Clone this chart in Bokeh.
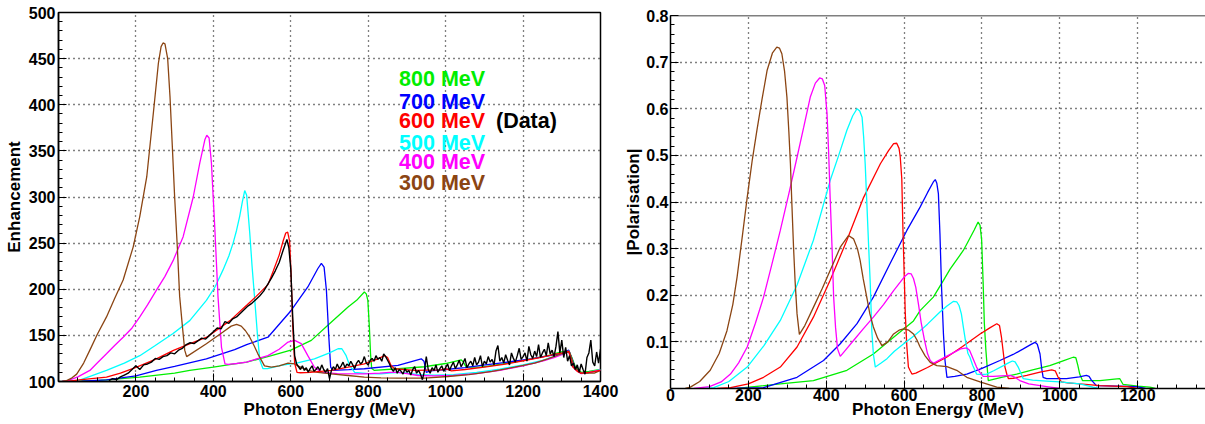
from bokeh.plotting import figure
from bokeh.layouts import row, column
from bokeh.models import FixedTicker, Span, PrintfTickFormatter
from bokeh.embed import file_html
from bokeh.resources import INLINE
from bokeh.core.properties import value

# ---------------- data: left panel (Enhancement) ----------------
brown300_enh = [(10,100),(21,101),(35,104),(47,108),(65,120),(81,134),(100,151),(124,170),(145,190),(167,210),(193,246),(210,279),(228,322),(245,391),(258,445),(265,463),(270,467),(275,466),(282,450),(288,409),(294,355),(300,300),(307,245),(313,192),(320,160),(326,134),(331,127),(382,141),(425,153.6),(446,160),(460,162),(472,160),(483,155),(494,148),(505,139),(515,130),(532,117),(550,115.5),(570,117),(593,120),(610,119),(618,117),(644,112),(670,110),(704,108.3),(748,106.5),(790,104.7),(833,104),(877,103.6),(945,103.6),(1006,105.4),(1060,107.5),(1120,111),(1178,115.5),(1230,120),(1264,124.6),(1298,130),(1320,132),(1333,115.5),(1350,109),(1384,109),(1400,112)]
magenta400_enh = [(10,100),(21,100.5),(50,105),(81,112),(100,120),(124,130),(145,139),(167,148),(190,158),(210,170),(230,183),(253,199),(275,214),(296,231),(322,257),(348,300),(365,337),(378,362),(383,367),(389,364),(395,337),(404,264),(412,192),(421,137),(430,119),(438,118.5),(460,119.5),(486,121),(500,123),(541,128),(570,135),(593,142.7),(610,144.6),(627,141),(644,128),(661,115.5),(679,110),(720,108.5),(790,108.3),(830,109),(855,110),(877,110),(900,108.5),(928,106.5),(970,106),(1020,106.5),(1080,108.5),(1140,112),(1200,117),(1250,122),(1280,126),(1300,129),(1318,132),(1326,123),(1335,113),(1350,108.5),(1370,109.5),(1400,112.5)]
cyan500_enh = [(10,100),(47,100.5),(85,106),(124,112),(170,120),(210,128),(250,139),(296,152),(339,166),(382,188),(405,203),(425,221),(440,236),(451,250),(460,264),(468,279),(475,295),(481,307),(486,302),(494,261),(500,225),(507,188),(514,150),(520,123),(528,114),(540,114),(575,117.4),(620,120.5),(661,124.6),(700,131),(722,135.5),(732,135.5),(743,128),(752,117.4),(765,110),(800,108.5),(833,108.3),(860,109.5),(880,110),(900,109),(930,107.5),(970,107),(1020,107.5),(1080,110),(1140,113.5),(1200,118),(1250,123),(1280,127),(1300,130),(1318,133),(1326,124),(1335,113),(1350,109),(1370,110),(1400,113)]
red600_enh = [(10,100),(21,100),(60,102),(124,104.7),(160,109),(202,115.5),(250,124),(297,133.7),(340,141),(383,148),(443,166),(486,182.6),(510,192),(541,205),(555,220),(570,237),(580,252),(587,261),(592,262),(597,252),(601,215),(605,160),(610,120),(616,110),(625,109.5),(650,110),(705,112),(748,115.5),(790,119),(825,124.6),(842,128),(850,126),(859,117.4),(868,113.8),(920,112),(988,112.6),(1000,114),(1015,111.5),(1050,113),(1100,115.5),(1150,118.5),(1200,122.5),(1250,126.5),(1280,129.5),(1302,131),(1318,133),(1328,116),(1340,111),(1350,109),(1370,110),(1400,112)]
blue700_enh = [(10,100),(60,100.5),(124,101.8),(200,106),(253,112),(300,116.5),(382,124.6),(455,134.5),(486,140),(541,148),(601,177),(644,202.5),(670,222.5),(679,228),(686,224),(692,199),(695,175),(698,150),(703,115.5),(709,112),(750,112.8),(790,113.8),(877,117.4),(937,124.6),(944,122),(950,110),(960,111.5),(1000,113),(1050,115),(1092,117.4),(1150,120.5),(1221,124.6),(1260,127.5),(1298,130),(1318,134),(1326,125),(1335,114),(1350,109),(1370,110),(1400,112)]
green800_enh = [(10,100),(100,101),(210,104.7),(300,109),(339,112),(400,115.5),(446,118.5),(486,121),(550,128),(600,134),(653,144.6),(700,162.7),(748,180.8),(770,188),(790,197),(795,195),(799,188),(803,159),(806,130),(809,114),(816,112),(877,113.8),(945,116),(1000,119.5),(1040,123.5),(1046,121),(1053,115.5),(1092,115.5),(1178,121),(1264,128),(1298,132),(1318,133),(1326,126),(1335,116),(1350,110),(1370,111),(1400,113)]

# measured enhancement (black): 10 MeV bins up to 590, 5 MeV bins from 595
data_E_low = list(range(130, 591, 10))
data_enh_low = [101, 103, 102, 105, 107, 109, 113, 117,
                113, 118, 119, 121, 125, 124, 127, 128, 131, 130,
                134, 136, 140, 142, 141, 144, 147, 146, 150, 154,
                158, 157, 165, 163, 168, 170, 174, 178, 182, 185,
                189, 193, 198, 205, 212, 220, 229, 242, 254]
data_E_high = list(range(595, 1401, 5))
data_enh_high = [245, 222, 170, 128, 119, 116, 113, 117, 112, 115,
                 110, 114, 117, 111, 113, 116, 112, 118, 113, 110,
                 114, 103, 112, 116, 113, 119, 114, 117, 121, 115,
                 119, 117, 122, 118, 114, 120, 123, 119, 121, 127,
                 120, 118, 123, 125, 122, 128, 124, 126, 122, 130,
                 127, 123, 119, 114, 111, 115, 109, 113, 111, 108,
                 114, 110, 112, 107, 113, 116, 109, 112, 108, 102,
                 111, 127, 113, 109, 115, 112, 118, 110, 114, 117,
                 111, 115, 119, 112, 117, 121, 114, 118, 123, 116,
                 120, 125, 115, 119, 122, 117, 126, 118, 121, 128,
                 116, 122, 119, 127, 121, 124, 118, 133, 139, 122,
                 126, 120, 129, 123, 118, 131, 125, 121, 128, 136,
                 124, 127, 131, 122, 138, 129, 125, 133, 127, 140,
                 126, 131, 135, 128, 142, 130, 134, 127, 138, 154,
                 131, 145, 126, 137, 122, 128, 117, 120, 113, 118,
                 110, 119, 113, 108, 126, 131, 145, 121, 117, 132,
                 120, 135]

# ---------------- data: right panel (|Polarisation|) ----------------
brown300_pol = [(38,0),(51,0.003),(75,0.015),(102,0.039),(125,0.075),(145,0.124),(160,0.18),(171,0.239),(185,0.33),(197,0.41),(210,0.49),(222,0.554),(235,0.62),(248,0.682),(262,0.72),(273,0.732),(280,0.73),(286,0.718),(293,0.68),(299,0.625),(304,0.55),(308,0.482),(312,0.39),(316,0.303),(320,0.23),(325,0.16),(331,0.116),(345,0.135),(367,0.174),(390,0.215),(410,0.253),(436,0.303),(457,0.328),(470,0.321),(480,0.3),(487,0.275),(495,0.235),(504,0.196),(512,0.16),(521,0.132),(532,0.108),(543,0.092),(558,0.1),(573,0.117),(587,0.125),(599,0.128),(612,0.125),(624,0.117),(633,0.104),(641,0.089),(654,0.07),(667,0.056),(684,0.049),(710,0.047),(735,0.039),(761,0.024),(795,0.014),(838,0.003),(870,0.0)]
magenta400_pol = [(60,0),(100,0.004),(130,0.014),(154,0.031),(175,0.055),(197,0.089),(218,0.14),(239,0.196),(260,0.265),(282,0.339),(304,0.418),(325,0.496),(342,0.56),(359,0.625),(372,0.655),(383,0.666),(390,0.664),(396,0.65),(402,0.589),(406,0.51),(410,0.41),(415,0.3),(419,0.196),(424,0.13),(429,0.085),(436,0.069),(450,0.083),(470,0.103),(495,0.128),(521,0.153),(547,0.18),(573,0.21),(590,0.228),(600,0.239),(611,0.247),(618,0.246),(624,0.236),(630,0.217),(637,0.18),(644,0.14),(652,0.105),(660,0.075),(667,0.06),(675,0.054),(700,0.065),(727,0.077),(745,0.085),(761,0.087),(768,0.082),(775,0.068),(786,0.046),(795,0.034),(803,0.026),(829,0.026),(850,0.027),(872,0.028),(885,0.024),(897,0.017),(920,0.01),(949,0.006),(975,0.003),(1000,0.0)]
cyan500_pol = [(75,0),(111,0.002),(150,0.015),(197,0.046),(240,0.092),(282,0.146),(325,0.222),(367,0.318),(410,0.446),(432,0.5),(453,0.554),(468,0.585),(479,0.6),(486,0.595),(492,0.582),(496,0.54),(500,0.482),(504,0.403),(509,0.303),(513,0.225),(517,0.124),(521,0.074),(526,0.046),(540,0.054),(556,0.064),(575,0.08),(599,0.096),(624,0.112),(641,0.124),(660,0.138),(692,0.164),(710,0.177),(727,0.187),(735,0.186),(741,0.178),(747,0.16),(752,0.132),(758,0.1),(764,0.075),(769,0.067),(776,0.05),(786,0.031),(800,0.03),(812,0.031),(830,0.038),(855,0.049),(868,0.055),(878,0.059),(885,0.057),(893,0.046),(900,0.032),(906,0.021),(930,0.018),(966,0.016),(1000,0.014),(1051,0.01),(1085,0.003),(1100,0.0)]
red600_pol = [(120,0),(154,0.002),(200,0.01),(239,0.024),(282,0.046),(325,0.089),(367,0.153),(410,0.232),(453,0.318),(496,0.41),(539,0.482),(560,0.51),(573,0.525),(581,0.526),(587,0.515),(590,0.497),(594,0.45),(597,0.339),(600,0.25),(603,0.16),(607,0.09),(611,0.046),(615,0.039),(620,0.031),(630,0.033),(660,0.045),(709,0.067),(750,0.09),(795,0.117),(820,0.13),(838,0.139),(845,0.135),(850,0.11),(855,0.075),(859,0.046),(864,0.03),(868,0.021),(880,0.022),(915,0.028),(949,0.035),(979,0.04),(988,0.038),(995,0.025),(1004,0.014),(1020,0.012),(1051,0.01),(1103,0.006),(1172,0.004),(1200,0.0)]
blue700_pol = [(150,0),(239,0.002),(325,0.024),(393,0.06),(436,0.096),(479,0.139),(521,0.196),(564,0.268),(607,0.339),(641,0.389),(660,0.42),(675,0.443),(680,0.448),(684,0.44),(688,0.418),(692,0.332),(696,0.22),(701,0.117),(705,0.06),(710,0.024),(730,0.026),(761,0.031),(800,0.043),(846,0.06),(880,0.073),(906,0.085),(925,0.094),(936,0.099),(942,0.095),(949,0.074),(953,0.045),(957,0.024),(966,0.021),(1017,0.021),(1050,0.025),(1068,0.028),(1075,0.026),(1081,0.018),(1094,0.006),(1150,0.005),(1197,0.004),(1220,0.0)]
green800_pol = [(171,0),(282,0.01),(367,0.017),(453,0.039),(521,0.074),(573,0.11),(624,0.145),(641,0.167),(675,0.196),(701,0.232),(718,0.256),(752,0.296),(761,0.31),(780,0.34),(790,0.357),(795,0.35),(799,0.32),(803,0.225),(806,0.14),(810,0.082),(816,0.017),(850,0.024),(889,0.031),(930,0.04),(974,0.049),(1010,0.06),(1034,0.067),(1041,0.066),(1046,0.05),(1051,0.031),(1058,0.017),(1103,0.017),(1140,0.02),(1154,0.021),(1158,0.015),(1162,0.009),(1200,0.005),(1231,0.003),(1245,0.0)]

# ---------------- labels / colours ----------------
beam_labels = ["800 MeV", "700 MeV", "600 MeV", "500 MeV", "400 MeV", "300 MeV"]
beam_colors = ["#00ee00", "#0000ff", "#ff0000", "#00ffff", "#ff00ff", "#8b4513"]
data_label = "(Data)"
left_xticks = [200, 400, 600, 800, 1000, 1200, 1400]
left_yticks = [100, 150, 200, 250, 300, 350, 400, 450, 500]
right_xticks = [0, 200, 400, 600, 800, 1000, 1200]
right_yticks = [0.1, 0.2, 0.3, 0.4, 0.5, 0.6, 0.7, 0.8]

FONT = "Liberation Sans"


def unzip(pts):
    return [p[0] for p in pts], [p[1] for p in pts]


def style(p, xt, xm, yt, ym, xlabel, ylabel, x_ls, x_as, y_ls, y_as):
    p.xaxis.ticker = FixedTicker(ticks=xt, minor_ticks=xm)
    p.yaxis.ticker = FixedTicker(ticks=yt, minor_ticks=ym)
    p.xaxis.axis_label = xlabel
    p.yaxis.axis_label = ylabel
    for ax in (p.xaxis[0], p.yaxis[0]):
        ax.axis_line_color = "black"
        ax.axis_line_width = 1.5
        ax.major_tick_in = 8
        ax.major_tick_out = 0
        ax.minor_tick_in = 4
        ax.minor_tick_out = 0
        ax.major_tick_line_color = "black"
        ax.minor_tick_line_color = "black"
        ax.major_label_text_font = FONT
        ax.major_label_text_font_size = "16px"
        ax.major_label_text_font_style = "bold"
        ax.major_label_text_color = "black"
        ax.axis_label_text_font = FONT
        ax.axis_label_text_font_size = "17px"
        ax.axis_label_text_font_style = "bold"
        ax.axis_label_text_color = "black"
    p.xaxis[0].major_label_standoff = x_ls
    p.xaxis[0].axis_label_standoff = x_as
    p.yaxis[0].major_label_standoff = y_ls
    p.yaxis[0].axis_label_standoff = y_as
    for g in (p.xgrid[0], p.ygrid[0]):
        g.grid_line_color = "black"
        g.grid_line_dash = "1 4"
        g.grid_line_width = 1.3
    p.background_fill_color = "white"
    p.border_fill_color = "white"


# ---------------- left figure ----------------
p1 = figure(width=620, height=424, x_range=(0, 1400), y_range=(100, 500),
            min_border_left=58, min_border_right=20, min_border_top=12, min_border_bottom=43,
            output_backend="svg", toolbar_location=None)
style(p1, left_xticks, list(range(50, 1400, 50)), left_yticks, list(range(100, 501, 10)),
      "Photon Energy (MeV)", "Enhancement", 3, 0, 3, 2)
p1.outline_line_color = "black"
p1.outline_line_width = 1.5

left_curves = [green800_enh, blue700_enh, cyan500_enh, magenta400_enh, brown300_enh]
left_cols = [beam_colors[0], beam_colors[1], beam_colors[3], beam_colors[4], beam_colors[5]]
for pts, c in zip(left_curves, left_cols):
    x, y = unzip(pts)
    p1.line(x, y, line_color=c, line_width=1.3)
xr, yr = unzip(red600_enh)
p1.line(xr, yr, line_color=beam_colors[2], line_width=1.3)
p1.line(data_E_low + data_E_high, data_enh_low + data_enh_high, line_color="black", line_width=1.4)

leg_y = [428, 403.3, 382.8, 358.5, 338.4, 314.7]
p1.text(x=[1102] * len(beam_labels), y=leg_y, text=beam_labels, text_color=beam_colors,
        text_font=value(FONT), text_font_style="bold", text_font_size="21.5px",
        text_align="right", text_baseline="middle")
p1.text(x=[1130], y=[382.8], text=[data_label], text_color="black",
        text_font=value(FONT), text_font_style="bold", text_font_size="21.5px",
        text_align="left", text_baseline="middle")

# ---------------- right figure ----------------
p2 = figure(width=585, height=424, x_range=(0, 1374), y_range=(0, 0.8),
            min_border_left=50, min_border_right=0, min_border_top=15, min_border_bottom=36,
            output_backend="svg", toolbar_location=None)
style(p2, right_xticks, list(range(50, 1374, 50)), right_yticks,
      [round(0.02 * i, 2) for i in range(1, 41)], "Photon Energy (MeV)", "|Polarisation|",
      0, -4, 2, 0)
p2.yaxis[0].formatter = PrintfTickFormatter(format="%.1f")
p2.outline_line_color = None
p2.add_layout(Span(location=0.8, dimension="width", line_color="black", line_width=1.5))

right_curves = [green800_pol, blue700_pol, red600_pol, cyan500_pol, magenta400_pol, brown300_pol]
for pts, c in zip(right_curves, [beam_colors[0], beam_colors[1], beam_colors[2],
                                 beam_colors[3], beam_colors[4], beam_colors[5]]):
    x, y = unzip(pts)
    p2.line(x, y, line_color=c, line_width=1.3)

layout = row(p1, column(p2))
open("out.html", "w").write(file_html(layout, INLINE, "Enhancement and Polarisation"))
